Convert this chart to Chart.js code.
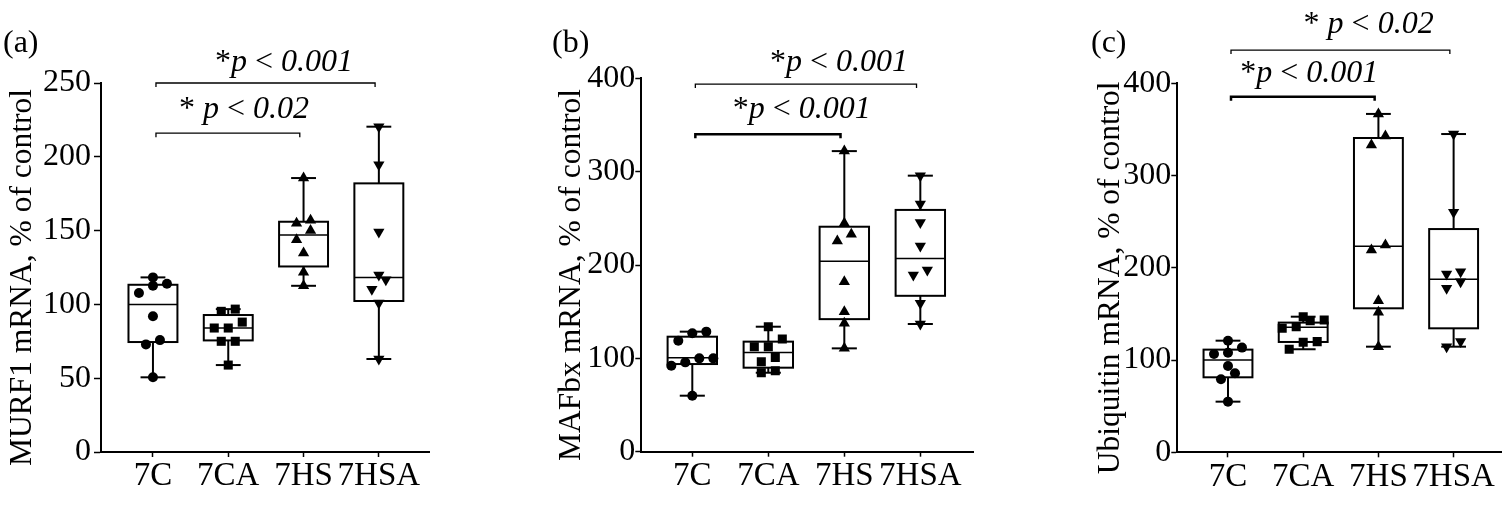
<!DOCTYPE html>
<html>
<head>
<meta charset="utf-8">
<script src="https://cdn.jsdelivr.net/npm/chart.js@4.4.0/dist/chart.umd.min.js"></script>
<style>
  body { margin: 0; background: #fff; }
  #wrap { position: relative; width: 1512px; height: 506px; }
  #wrap canvas { position: absolute; top: 0; }
</style>
</head>
<body>
<div id="wrap">
  <canvas id="chartA" width="504" height="506" style="left:0"></canvas>
  <canvas id="chartB" width="504" height="506" style="left:504px"></canvas>
  <canvas id="chartC" width="504" height="506" style="left:1008px"></canvas>
</div>
<script>
// ===== Data =====
const categories = ["7C", "7CA", "7HS", "7HSA"];

// (a) MURF1 mRNA, % of control
const murf1Points = [
  [118.3, 112.6, 114, 107.7, 92, 75.8, 72.9, 50.6],
  [96.8, 95.3, 88, 84, 84, 75, 75, 58.9],
  [185.6, 155, 157, 150, 143.8, 134.8, 121.7, 112.6],
  [220.4, 194.6, 149, 120, 116.7, 110.2, 101, 63]
];
const murf1Low = [50.6, 58.9, 112.6, 63];
const murf1Q1 = [74.5, 75.6, 125.7, 102.3];
const murf1Median = [100, 84, 147, 118.3];
const murf1Q3 = [113.3, 92.8, 156, 182];
const murf1High = [118.3, 96.8, 185.6, 220.4];

// (b) MAFbx mRNA, % of control
const mafbxPoints = [
  [128.6, 126.8, 118.9, 100, 100, 95.7, 92.1, 60],
  [133.9, 112.5, 112.5, 120.7, 96.4, 101, 86.8, 84.6],
  [322, 244.6, 225.7, 232.9, 182, 150, 137.5, 110.7],
  [295.7, 265.4, 245.4, 220.4, 194.6, 189.3, 159, 136.8]
];
const mafbxLow = [60, 84.6, 110.7, 136.8];
const mafbxQ1 = [93.9, 90, 142, 167];
const mafbxMedian = [100.7, 106.4, 204, 207];
const mafbxQ3 = [123.2, 117.9, 241, 259];
const mafbxHigh = [128.6, 133.9, 322, 295.7];

// (c) Ubiquitin mRNA, % of control
const ubiqPoints = [
  [121, 106.6, 108, 113.5, 93.6, 85.6, 79.1, 54.9],
  [147, 136.2, 134.4, 143.4, 142.7, 120, 119.2, 111.7],
  [366.8, 343, 333, 224.8, 219.3, 164.4, 151.8, 114.5],
  [345, 260.2, 193.3, 195.8, 185, 177.8, 120, 114.5]
];
const ubiqLow = [54.9, 111.7, 114.5, 114.5];
const ubiqQ1 = [81.3, 119.6, 156.1, 134.4];
const ubiqMedian = [100, 135.5, 223.3, 187.5];
const ubiqQ3 = [111.3, 140.6, 340.7, 242];
const ubiqHigh = [121, 147, 366.8, 345];

// ===== Styling =====
const FONT = "'Liberation Serif', 'Times New Roman', serif";
Chart.defaults.font.family = FONT;
Chart.defaults.color = "#000";

const markers = ["circle", "rect", "triangle", "triangle"];
const markerRotation = [0, 0, 0, 180];
const markerRadius = [5, 6.4, 6.5, 6.5];

const BOX_HALF = 0.325;   // box half width, category units
const CAP_HALF = 0.165;   // whisker cap half width
const SPREAD = 14;        // px between points sharing a row
const ROW_GAP = 11;       // px, values closer than this share a row

const panels = [
  {
    canvas: "chartA", tag: "(a)", title: "MURF1 mRNA, % of control",
    points: murf1Points, low: murf1Low, q1: murf1Q1, median: murf1Median, q3: murf1Q3, high: murf1High,
    yMax: 250, yStep: 50, xMin: -0.69, xMax: 3.666,
    pad: { left: 0, top: 83, right: 75 }, yWidth: 101, xHeight: 54, tickLen: 7, tickPad: 3,
    brackets: [
      { from: 0, to: 3, y: 250, w: 1.3, text: "*p < 0.001", tx: 1.74, ty: 257.8 },
      { from: 0, to: 2, y: 216, w: 1.3, text: "* p < 0.02", tx: 1.21, ty: 226 }
    ]
  },
  {
    canvas: "chartB", tag: "(b)", title: "MAFbx mRNA, % of control",
    points: mafbxPoints, low: mafbxLow, q1: mafbxQ1, median: mafbxMedian, q3: mafbxQ3, high: mafbxHigh,
    yMax: 400, yStep: 100, xMin: -0.671, xMax: 3.697,
    pad: { left: 45, top: 78.3, right: 34.7 }, yWidth: 92.3, xHeight: 54.3, tickLen: 6, tickPad: 0,
    brackets: [
      { from: 0, to: 3, y: 393.8, w: 1.3, text: "*p < 0.001", tx: 1.93, ty: 407.3 },
      { from: 0, to: 2, y: 340, w: 2.5, text: "*p < 0.001", tx: 1.44, ty: 357.3 }
    ]
  },
  {
    canvas: "chartC", tag: "(c)", title: "Ubiquitin mRNA, % of control",
    points: ubiqPoints, low: ubiqLow, q1: ubiqQ1, median: ubiqMedian, q3: ubiqQ3, high: ubiqHigh,
    yMax: 400, yStep: 100, xMin: -0.674, xMax: 3.634,
    pad: { left: 80, top: 83.3, right: 10.7 }, yWidth: 89.3, xHeight: 53.7, tickLen: 6, tickPad: 0,
    brackets: [
      { from: 0, to: 3, y: 436, w: 1.3, text: "* p < 0.02", tx: 1.87, ty: 454.2 },
      { from: 0, to: 2, y: 385.5, w: 2.5, text: "*p < 0.001", tx: 1.08, ty: 401.7 }
    ]
  }
];

// spread points of one group sideways, rows of close values centred on the group
function swarm(values, pxPerY, pxPerX) {
  const order = values.map((v, i) => i).sort((a, b) => values[a] - values[b]);
  const out = new Array(values.length);
  let row = [];
  const flush = () => {
    row.forEach((k, j) => { out[k] = (j - (row.length - 1) / 2) * SPREAD / pxPerX; });
    row = [];
  };
  order.forEach(k => {
    if (row.length && (values[k] - values[row[0]]) * pxPerY > ROW_GAP) flush();
    row.push(k);
  });
  flush();
  return out;
}

// "*p < 0.001" with p and the number in italics
function drawRich(ctx, text, cx, baseY) {
  const parts = text.split(/([p0-9.]+)/).filter(s => s.length);
  const fonts = parts.map(s => (/^[p0-9.]+$/.test(s) ? "italic " : "") + "32px " + FONT);
  const widths = parts.map((s, i) => { ctx.font = fonts[i]; return ctx.measureText(s).width; });
  let x = cx - widths.reduce((a, b) => a + b, 0) / 2;
  ctx.textAlign = "left";
  ctx.textBaseline = "alphabetic";
  parts.forEach((s, i) => { ctx.font = fonts[i]; ctx.fillText(s, x, baseY); x += widths[i]; });
}

function boxPlugin(p) {
  return {
    id: "boxes",
    beforeDatasetsDraw(chart) {
      const { ctx, scales: { x, y } } = chart;
      ctx.save();
      ctx.strokeStyle = "#000";
      const seg = (x0, y0, x1, y1) => { ctx.beginPath(); ctx.moveTo(x0, y0); ctx.lineTo(x1, y1); ctx.stroke(); };
      p.low.forEach((lo, i) => {
        const cx = x.getPixelForValue(i);
        const bx0 = x.getPixelForValue(i - BOX_HALF), bx1 = x.getPixelForValue(i + BOX_HALF);
        const cx0 = x.getPixelForValue(i - CAP_HALF), cx1 = x.getPixelForValue(i + CAP_HALF);
        const yLo = y.getPixelForValue(lo), yHi = y.getPixelForValue(p.high[i]);
        const yQ1 = y.getPixelForValue(p.q1[i]), yQ3 = y.getPixelForValue(p.q3[i]);
        const yMed = y.getPixelForValue(p.median[i]);
        ctx.lineWidth = 2;
        seg(cx, yLo, cx, yQ1);
        seg(cx, yQ3, cx, yHi);
        seg(cx0, yLo, cx1, yLo);
        seg(cx0, yHi, cx1, yHi);
        ctx.fillStyle = "#fff";
        ctx.fillRect(bx0, yQ3, bx1 - bx0, yQ1 - yQ3);
        ctx.strokeRect(bx0, yQ3, bx1 - bx0, yQ1 - yQ3);
        ctx.lineWidth = 1.5;
        seg(bx0, yMed, bx1, yMed);
      });
      ctx.restore();
    },
    afterDraw(chart) {
      const { ctx, chartArea, scales: { x, y } } = chart;
      ctx.save();
      ctx.strokeStyle = "#000";
      ctx.fillStyle = "#000";
      p.brackets.forEach(b => {
        const x0 = x.getPixelForValue(b.from + 0.04), x1 = x.getPixelForValue(b.to - 0.05);
        const yy = y.getPixelForValue(b.y);
        ctx.lineWidth = b.w;
        ctx.beginPath();
        ctx.moveTo(x0, yy + 4); ctx.lineTo(x0, yy); ctx.lineTo(x1, yy); ctx.lineTo(x1, yy + 4);
        ctx.stroke();
        drawRich(ctx, b.text, x.getPixelForValue(b.tx), y.getPixelForValue(b.ty));
      });
      // panel tag
      ctx.font = "32px " + FONT;
      ctx.textAlign = "left";
      ctx.textBaseline = "middle";
      ctx.fillText(p.tag, p.pad.left + 3, 44);
      // y axis title, sitting a little below the axis middle as in the figure
      ctx.translate(p.pad.left + 23, (chartArea.top + chartArea.bottom) / 2 + 10);
      ctx.rotate(-Math.PI / 2);
      ctx.font = "31.5px " + FONT;
      ctx.textAlign = "center";
      ctx.fillText(p.title, 0, 0);
      ctx.restore();
    }
  };
}

// ===== Charts =====
panels.forEach(p => {
  const plotW = 504 - p.pad.left - p.yWidth - p.pad.right;
  const plotH = 506 - p.pad.top - p.xHeight;
  const pxPerX = plotW / (p.xMax - p.xMin);
  const pxPerY = plotH / p.yMax;

  const datasets = p.points.map((vals, g) => {
    const off = swarm(vals, pxPerY, pxPerX);
    return {
      label: categories[g],
      data: vals.map((v, i) => ({ x: g + off[i], y: v })),
      pointStyle: markers[g],
      rotation: markerRotation[g],
      pointRadius: markerRadius[g],
      pointBackgroundColor: "#000",
      pointBorderColor: "#000",
      pointBorderWidth: 0,
      showLine: false
    };
  });

  new Chart(document.getElementById(p.canvas), {
    type: "scatter",
    data: { datasets },
    options: {
      responsive: false,
      animation: false,
      layout: { padding: { left: p.pad.left, top: p.pad.top, right: p.pad.right, bottom: 0 } },
      plugins: { legend: { display: false }, tooltip: { enabled: false } },
      scales: {
        x: {
          type: "linear",
          min: p.xMin,
          max: p.xMax,
          afterBuildTicks: s => { s.ticks = categories.map((c, i) => ({ value: i })); },
          afterFit: s => { s.height = p.xHeight; s.paddingLeft = 0; s.paddingRight = 0; },
          ticks: {
            callback: v => categories[v] ?? "",
            font: { size: 33 },
            color: "#000",
            padding: 0,
            maxRotation: 0,
            minRotation: 0,
            autoSkip: false
          },
          grid: { drawOnChartArea: false, drawTicks: true, tickLength: 5, tickColor: "#000", tickWidth: 1.5 },
          border: { display: true, color: "#000", width: 2 }
        },
        y: {
          min: 0,
          max: p.yMax,
          afterFit: s => { s.width = p.yWidth; },
          ticks: { stepSize: p.yStep, font: { size: 32 }, color: "#000", padding: p.tickPad },
          grid: { drawOnChartArea: false, drawTicks: true, tickLength: p.tickLen, tickColor: "#000", tickWidth: 1.5 },
          border: { display: true, color: "#000", width: 2 },
          title: { display: false }
        }
      }
    },
    plugins: [boxPlugin(p)]
  });
});
</script>
</body>
</html>
